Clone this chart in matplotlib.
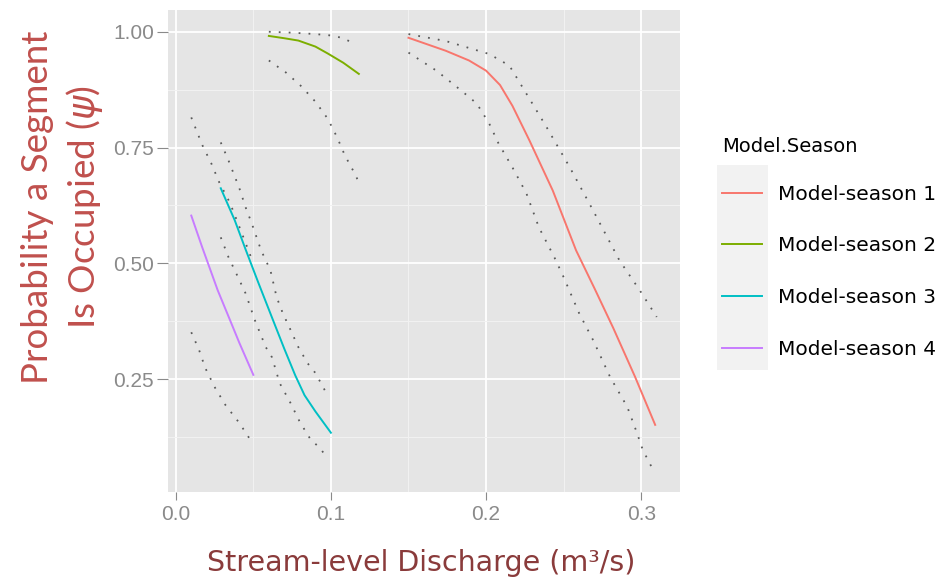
import matplotlib
matplotlib.use("Agg")
import matplotlib.pyplot as plt
from matplotlib.lines import Line2D
from matplotlib.patches import Rectangle

# values
seasons = ["Model-season 1", "Model-season 2", "Model-season 3", "Model-season 4"]
colors = ["#F8766D", "#7CAE00", "#00BFC4", "#C77CFF"]

s1_x = [0.150, 0.174, 0.189, 0.200, 0.209, 0.217, 0.228, 0.243, 0.258, 0.270, 0.282, 0.296, 0.309]
s1_y = [0.987, 0.959, 0.938, 0.916, 0.885, 0.840, 0.765, 0.657, 0.528, 0.445, 0.360, 0.255, 0.151]
s1_up_x = [0.150, 0.174, 0.202, 0.215, 0.221, 0.239, 0.254, 0.269, 0.286, 0.299, 0.310]
s1_up_y = [0.995, 0.980, 0.952, 0.927, 0.894, 0.794, 0.707, 0.614, 0.506, 0.442, 0.384]
s1_lo_x = [0.150, 0.168, 0.184, 0.194, 0.202, 0.208, 0.217, 0.226, 0.234, 0.244, 0.250,
           0.260, 0.269, 0.280, 0.291, 0.297, 0.301, 0.307]
s1_lo_y = [0.955, 0.916, 0.873, 0.845, 0.802, 0.759, 0.707, 0.651, 0.578, 0.513, 0.470,
           0.392, 0.334, 0.254, 0.190, 0.136, 0.097, 0.058]

s2_x = [0.060, 0.070, 0.079, 0.090, 0.098, 0.108, 0.118]
s2_y = [0.991, 0.986, 0.981, 0.968, 0.953, 0.933, 0.909]
s2_up_x = [0.060, 0.075, 0.090, 0.100, 0.107, 0.113]
s2_up_y = [1.000, 0.998, 0.995, 0.992, 0.987, 0.978]
s2_lo_x = [0.060, 0.071, 0.081, 0.090, 0.098, 0.104, 0.109, 0.115, 0.118]
s2_lo_y = [0.938, 0.912, 0.882, 0.849, 0.812, 0.772, 0.733, 0.696, 0.675]

s3_x = [0.029, 0.038, 0.045, 0.053, 0.062, 0.070, 0.077, 0.083, 0.090, 0.100]
s3_y = [0.662, 0.593, 0.530, 0.460, 0.383, 0.315, 0.258, 0.215, 0.180, 0.134]
s3_up_x = [0.029, 0.034, 0.041, 0.045, 0.049, 0.055, 0.061, 0.065, 0.069, 0.074,
           0.079, 0.085, 0.090, 0.097]
s3_up_y = [0.761, 0.722, 0.662, 0.621, 0.586, 0.528, 0.485, 0.427, 0.392, 0.356,
           0.319, 0.284, 0.263, 0.220]
s3_lo_x = [0.029, 0.034, 0.039, 0.045, 0.051, 0.058, 0.062, 0.067, 0.074, 0.080,
           0.087, 0.093, 0.097]
s3_lo_y = [0.556, 0.513, 0.478, 0.435, 0.377, 0.319, 0.297, 0.241, 0.198, 0.157,
           0.119, 0.101, 0.082]

s4_x = [0.010, 0.017, 0.027, 0.035, 0.041, 0.050]
s4_y = [0.603, 0.535, 0.442, 0.377, 0.328, 0.259]
s4_up_x = [0.010, 0.017, 0.023, 0.028, 0.035, 0.042, 0.050]
s4_up_y = [0.815, 0.756, 0.715, 0.675, 0.630, 0.570, 0.500]
s4_lo_x = [0.010, 0.015, 0.019, 0.025, 0.032, 0.041, 0.049]
s4_lo_y = [0.351, 0.313, 0.274, 0.233, 0.194, 0.155, 0.114]

x_ticks = [0.0, 0.1, 0.2, 0.3]
x_ticklabels = ["0.0", "0.1", "0.2", "0.3"]
y_ticks = [0.25, 0.50, 0.75, 1.00]
y_ticklabels = ["0.25", "0.50", "0.75", "1.00"]

solids = [(s1_x, s1_y), (s2_x, s2_y), (s3_x, s3_y), (s4_x, s4_y)]
bands = [(s1_up_x, s1_up_y, s1_lo_x, s1_lo_y), (s2_up_x, s2_up_y, s2_lo_x, s2_lo_y),
         (s3_up_x, s3_up_y, s3_lo_x, s3_lo_y), (s4_up_x, s4_up_y, s4_lo_x, s4_lo_y)]

# mixed text + math in the y title: plain parts in Lato, psi in italic
plt.rcParams["mathtext.fontset"] = "custom"
plt.rcParams["mathtext.rm"] = "Lato"
plt.rcParams["mathtext.it"] = "DejaVu Sans:italic"

fig = plt.figure(figsize=(9.48, 5.88), dpi=100)
ax = fig.add_axes([168 / 948, 1 - 492 / 588, 512 / 948, 482 / 588])
ax.set_facecolor("#E5E5E5")

dot_style = dict(color="#5a5a5a", lw=1.3, linestyle=(0, (1, 4.5)))
for (ux, uy, lx, ly) in bands:
    ax.plot(ux, uy, **dot_style)
    ax.plot(lx, ly, **dot_style)
for (x, y), c in zip(solids, colors):
    ax.plot(x, y, color=c, lw=1.4)

ax.set_xlim(-0.005, 0.325)
ax.set_ylim(0.006, 1.047)
ax.set_xticks(x_ticks)
ax.set_xticklabels(x_ticklabels)
ax.set_yticks(y_ticks)
ax.set_yticklabels(y_ticklabels)
ax.set_xticks([0.05, 0.15, 0.25], minor=True)
ax.set_yticks([0.125, 0.375, 0.625, 0.875], minor=True)
ax.grid(True, which="major", color="white", lw=1.3)
ax.grid(True, which="minor", color="#F2F2F2", lw=0.7)
ax.set_axisbelow(True)
for sp in ax.spines.values():
    sp.set_visible(False)
ax.tick_params(axis="y", which="major", length=8, pad=2)
ax.tick_params(axis="x", which="major", length=6, pad=3)
ax.tick_params(which="major", color="#8a8a8a", labelcolor="#8a8a8a", labelsize=15)
ax.tick_params(which="minor", length=0)
for lab in ax.get_xticklabels() + ax.get_yticklabels():
    lab.set_family("Liberation Sans")

# y axis title, two lines, with white box over the tick labels like the original
fig.text(63 / 948, 1 - 207 / 588, "Probability a Segment\nIs Occupied ($\\psi$)",
         rotation=90, ha="center", va="center", multialignment="center",
         family="Lato", fontsize=26.5, color="#C0504D", linespacing=1.3,
         bbox=dict(facecolor="white", edgecolor="none", pad=5), zorder=5)

fig.text(421 / 948, 1 - 563 / 588, "Stream-level Discharge (m\u00b3/s)",
         ha="center", va="center", fontsize=20.5, color="#8a3b3b")

# legend with grey key boxes
fig.patches.append(Rectangle((717 / 948, 1 - 370 / 588), 51 / 948, 205 / 588,
                             transform=fig.transFigure, facecolor="#F2F2F2",
                             edgecolor="none", zorder=-1))
handles = [Line2D([], [], color=c, lw=1.4) for c in colors]
leg = fig.legend(handles, seasons, title="Model.Season", loc="upper left",
                 bbox_to_anchor=(704 / 948, 1 - 119 / 588), frameon=False,
                 fontsize=14.5, title_fontsize=14, handlelength=2.0,
                 handletextpad=0.75, labelspacing=1.62)
leg._legend_box.align = "left"
leg._legend_box.sep = 20.6

fig.savefig("out.png", dpi=100)
